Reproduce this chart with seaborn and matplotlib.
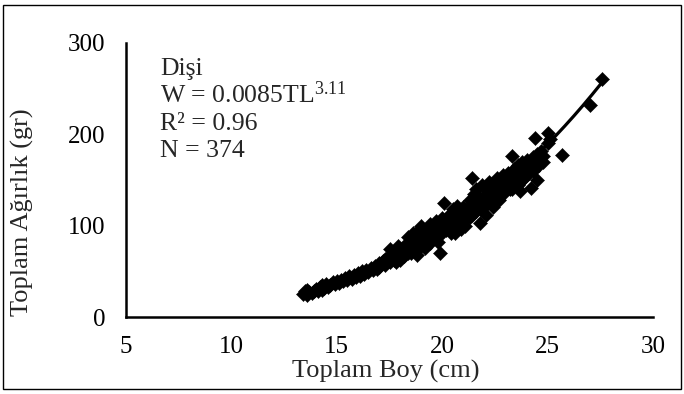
import matplotlib
matplotlib.use("Agg")
import matplotlib.pyplot as plt
import seaborn as sns
import numpy as np
import pandas as pd
from matplotlib.patches import Rectangle

# ---- data ----
length_cm = [
    13.4, 13.5, 13.6, 13.7, 13.6, 13.8, 13.9, 14.0, 14.1, 14.2, 14.3, 14.3, 14.4, 14.5, 14.6, 14.7, 14.8, 14.9, 15.0, 15.1,
    15.2, 15.3, 15.4, 15.5, 15.6, 15.7, 15.8, 15.9, 16.0, 16.1, 16.2, 16.3, 16.4, 16.5, 16.6, 16.7, 16.8, 16.9, 17.0, 17.0,
    17.1, 17.2, 17.3, 17.4, 17.5, 17.5, 17.6, 17.7, 17.7, 17.8, 17.9, 17.9, 18.0, 18.0, 18.1,
    18.2, 18.3, 18.3, 18.4, 18.4, 18.5, 18.5, 18.6, 18.6, 18.7, 18.7, 18.8, 18.8, 18.9, 18.9, 19.0, 19.0, 19.0,
    19.1, 19.2, 19.2, 19.3, 19.3, 19.4, 19.4, 19.5, 19.5, 19.6, 19.7, 19.7, 19.8, 19.8, 19.9, 19.9, 20.0, 20.0,
    20.1, 20.1, 20.2, 20.3, 20.3, 20.4, 20.5, 20.5, 20.6, 20.6, 20.7, 20.7, 20.8, 20.9, 20.9, 21.0, 21.0, 21.1,
    21.2, 21.3, 21.3, 21.4, 21.4, 21.5, 21.5, 21.6, 21.6, 21.7, 21.7, 21.8, 21.8, 21.9, 21.9, 22.0, 22.0, 22.1, 22.1,
    22.2, 22.2, 22.3, 22.3, 22.4, 22.4, 22.5, 22.5, 22.6, 22.6, 22.7, 22.7, 22.8, 22.9, 22.9, 23.0, 23.0,
    23.1, 23.1, 23.2, 23.3, 23.3, 23.4, 23.4, 23.5, 23.6, 23.6, 23.7, 23.7, 23.8, 23.8, 23.9, 24.0, 24.0,
    24.1, 24.2, 24.2, 24.3, 24.4, 24.4, 24.5, 24.5, 24.6, 24.7, 24.8, 25.0, 25.0, 25.1, 25.7, 27.0, 27.6,
    17.3, 17.6, 17.8, 18.1, 18.2, 18.4, 18.6, 18.8, 19.1, 19.3, 19.6, 19.8, 20.2, 20.4, 20.6, 20.8, 21.1, 21.2,
    21.4, 21.6, 21.8, 22.0, 22.2, 22.4, 22.6, 22.8, 23.0, 23.2, 23.4, 23.6, 23.8, 24.1, 24.3, 24.6, 24.8,
]
weight_gr = [
    25, 28, 24, 27, 30, 26, 29, 31, 28, 33, 30, 35, 32, 36, 33, 35, 38, 36, 39, 37,
    41, 39, 43, 41, 45, 42, 46, 44, 48, 45, 50, 47, 52, 49, 54, 51, 56, 53, 59, 55,
    58, 61, 57, 64, 60, 75, 66, 62, 72, 68, 64, 78, 70, 62, 74,
    67, 80, 72, 76, 88, 70, 82, 78, 92, 74, 86, 81, 68, 95, 84, 78, 100, 88,
    83, 92, 76, 97, 86, 81, 102, 90, 84, 95, 88, 105, 93, 82, 98, 70, 108, 92,
    125, 100, 95, 112, 102, 98, 118, 106, 92, 110, 122, 102, 115, 108, 96, 120, 112, 100,
    118, 128, 110, 152, 122, 135, 115, 128, 140, 120, 132, 103, 126, 145, 118, 132, 122, 140, 112,
    135, 148, 128, 142, 138, 120, 145, 132, 152, 138, 128, 148, 142, 155, 135, 150, 140,
    158, 145, 152, 176, 140, 162, 150, 158, 145, 166, 155, 138, 170, 160, 152, 172, 162,
    158, 141, 168, 175, 196, 165, 150, 178, 172, 182, 176, 202, 190, 195, 177, 232, 261,
    63, 70, 60, 66, 76, 70, 85, 90, 89, 80, 90, 99, 104, 92, 100, 104, 116, 108,
    112, 116, 120, 126, 128, 130, 132, 136, 145, 140, 145, 152, 150, 164, 160, 166, 170,
]
# power trend line W = a * TL^b (as printed on the chart)
fit_a = 0.0085
fit_b = 3.11
x_ticks = [5, 10, 15, 20, 25, 30]
y_ticks = [0, 100, 200, 300]
annot_lines = ["Dişi", "W = 0.0085TL$^{\\mathregular{3.11}}$", "R² = 0.96", "N = 374"]

df = pd.DataFrame({"TL": length_cm, "W": weight_gr})
tl_line = np.linspace(min(length_cm), max(length_cm), 200)
df_fit = pd.DataFrame({"TL": tl_line, "W": fit_a * tl_line ** fit_b})

# ---- style ----
sns.set_style("white")
plt.rcParams["font.family"] = ["Liberation Serif", "DejaVu Serif"]
plt.rcParams["mathtext.fontset"] = "custom"
plt.rcParams["mathtext.rm"] = "Liberation Serif"
plt.rcParams["mathtext.it"] = "Liberation Serif"

W_PX, H_PX = 684, 394
fig = plt.figure(figsize=(W_PX / 100, H_PX / 100), dpi=100)
ax = fig.add_axes([126 / W_PX, 1 - 317 / H_PX, (653 - 126) / W_PX, (317 - 43) / H_PX])

sns.scatterplot(data=df, x="TL", y="W", ax=ax, marker="D", s=52,
                color="black", edgecolor="black", linewidth=0.3, zorder=3, legend=False)
sns.lineplot(data=df_fit, x="TL", y="W", ax=ax, color="black", linewidth=2.3, zorder=4)

ax.set_xlim(5, 30)
ax.set_ylim(0, 300)
ax.set_xticks(x_ticks)
ax.set_yticks(y_ticks)
ax.set_xticklabels([str(v) for v in x_ticks])
ax.set_yticklabels([str(v) for v in y_ticks])
ax.tick_params(axis="both", direction="in", length=5, width=1.6, labelsize=18, colors="black")
ax.tick_params(axis="y", pad=15)
ax.tick_params(axis="x", pad=14)
for side in ["top", "right"]:
    ax.spines[side].set_visible(False)
for side in ["left", "bottom"]:
    ax.spines[side].set_linewidth(1.8)
    ax.spines[side].set_color("black")

ax.set_xlabel("Toplam Boy (cm)", fontsize=19)
ax.set_ylabel("Toplam Ağırlık (gr)", fontsize=19)
ax.xaxis.set_label_coords((386 - 126) / (653 - 126), (317 - 371) / (317 - 43))
ax.xaxis.label.set_va("center")
ax.yaxis.set_label_coords((22 - 126) / (653 - 126), (317 - 212) / (317 - 43))
ax.yaxis.label.set_va("center")
ax.grid(False)

for i, t in enumerate(annot_lines):
    fig.text(160 / W_PX, 1 - (75 + 27.5 * i) / H_PX, t, fontsize=18.5, ha="left", va="baseline")

fig.patches.append(Rectangle((3 / W_PX, 5 / H_PX), 678 / W_PX, 384 / H_PX, transform=fig.transFigure,
                             fill=False, edgecolor="black", linewidth=1.0))

fig.savefig("out.png", dpi=100)
